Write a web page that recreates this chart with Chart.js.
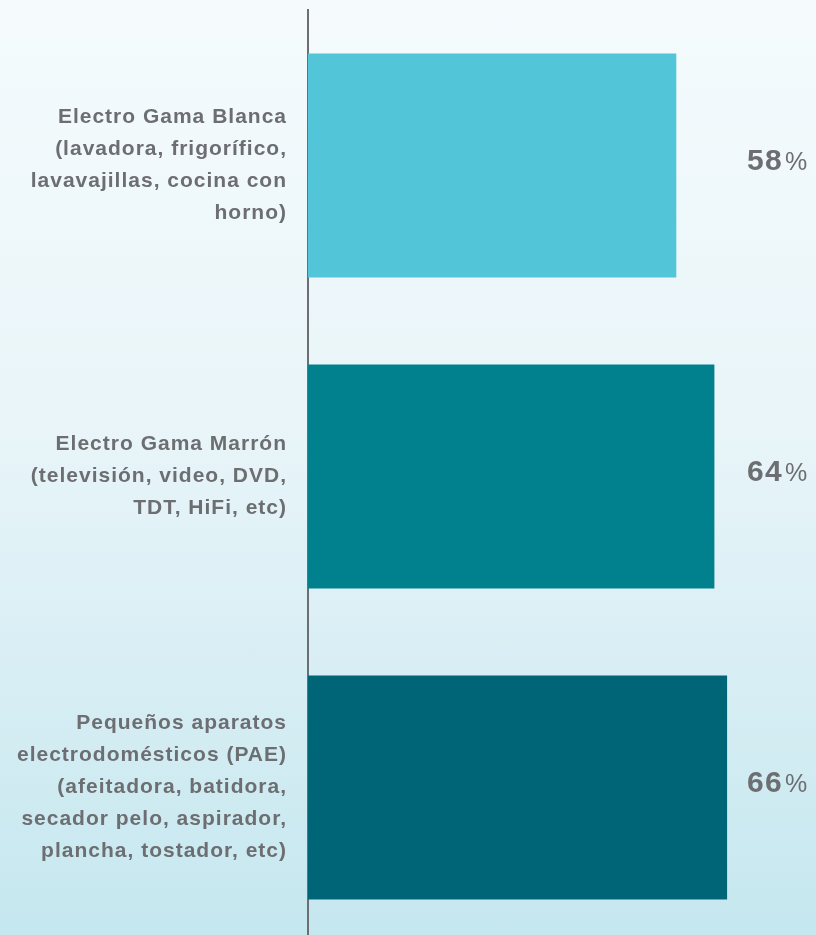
<!DOCTYPE html>
<html>
<head>
<meta charset="utf-8">
<script src="https://cdn.jsdelivr.net/npm/chart.js@4"></script>
<style>
  html, body { margin: 0; padding: 0; overflow: hidden; }
  body {
    width: 816px; height: 935px;
    background: linear-gradient(to bottom, #f5fbfd 0%, #e9f5f9 45%, #c5e7ef 100%);
  }
  #wrap { position: relative; width: 816px; height: 943px; }
</style>
</head>
<body>
<div id="wrap"><canvas id="myChart"></canvas></div>
<script>
var categorias = [
  ["Electro Gama Blanca", "(lavadora, frigorífico,", "lavavajillas, cocina con", "horno)"],
  ["Electro Gama Marrón", "(televisión, video, DVD,", "TDT, HiFi, etc)"],
  ["Pequeños aparatos", "electrodomésticos (PAE)", "(afeitadora, batidora,", "secador pelo, aspirador,", "plancha, tostador, etc)"]
];
var porcentajes = [58, 64, 66];
var colores = ["#52c5d8", "#00818d", "#006677"];

var gris = "#6d6e71";

// etiquetas de valor: número grande y "%" más pequeño
var etiquetasValor = {
  id: "etiquetasValor",
  afterDatasetsDraw: function (chart) {
    var ctx = chart.ctx;
    var meta = chart.getDatasetMeta(0);
    ctx.save();
    ctx.fillStyle = gris;
    ctx.textBaseline = "alphabetic";
    ctx.textAlign = "left";
    meta.data.forEach(function (bar, i) {
      var x = 747;
      var y = bar.y + 4;
      ctx.font = "bold 30px 'Liberation Sans'";
      ctx.letterSpacing = "1.3px";
      var txt = String(porcentajes[i]);
      ctx.fillText(txt, x, y);
      var w = ctx.measureText(txt).width;
      ctx.font = "25px 'Liberation Sans'";
      ctx.letterSpacing = "0px";
      ctx.fillText("%", x + w + 2, y);
    });
    ctx.restore();
  }
};

var espaciado = {
  id: "espaciado",
  beforeDraw: function (chart) {
    chart.ctx.letterSpacing = "1px";
  }
};

var ctx = document.getElementById("myChart").getContext("2d");
var myChart = new Chart(ctx, {
  type: "bar",
  data: {
    labels: categorias,
    datasets: [
      {
        data: porcentajes,
        backgroundColor: colores,
        borderWidth: 0,
        barPercentage: 0.72,
        categoryPercentage: 1
      }
    ]
  },
  options: {
    indexAxis: "y",
    responsive: true,
    maintainAspectRatio: false,
    animation: false,
    layout: { padding: { top: 10, right: 0, bottom: 0, left: 0 } },
    plugins: {
      legend: { display: false },
      tooltip: { enabled: false }
    },
    scales: {
      x: {
        min: 0,
        max: 80,
        display: false
      },
      y: {
        grid: { display: false, drawTicks: false },
        border: { display: true, color: gris, width: 2 },
        afterFit: function (scale) {
          scale.width = 308;
          scale.paddingTop = 0;
          scale.paddingBottom = 0;
        },
        ticks: {
          color: gris,
          padding: 21,
          font: { family: "'Liberation Sans'", size: 21, weight: "bold", lineHeight: 1.52 }
        }
      }
    }
  },
  plugins: [espaciado, etiquetasValor]
});
</script>
</body>
</html>
